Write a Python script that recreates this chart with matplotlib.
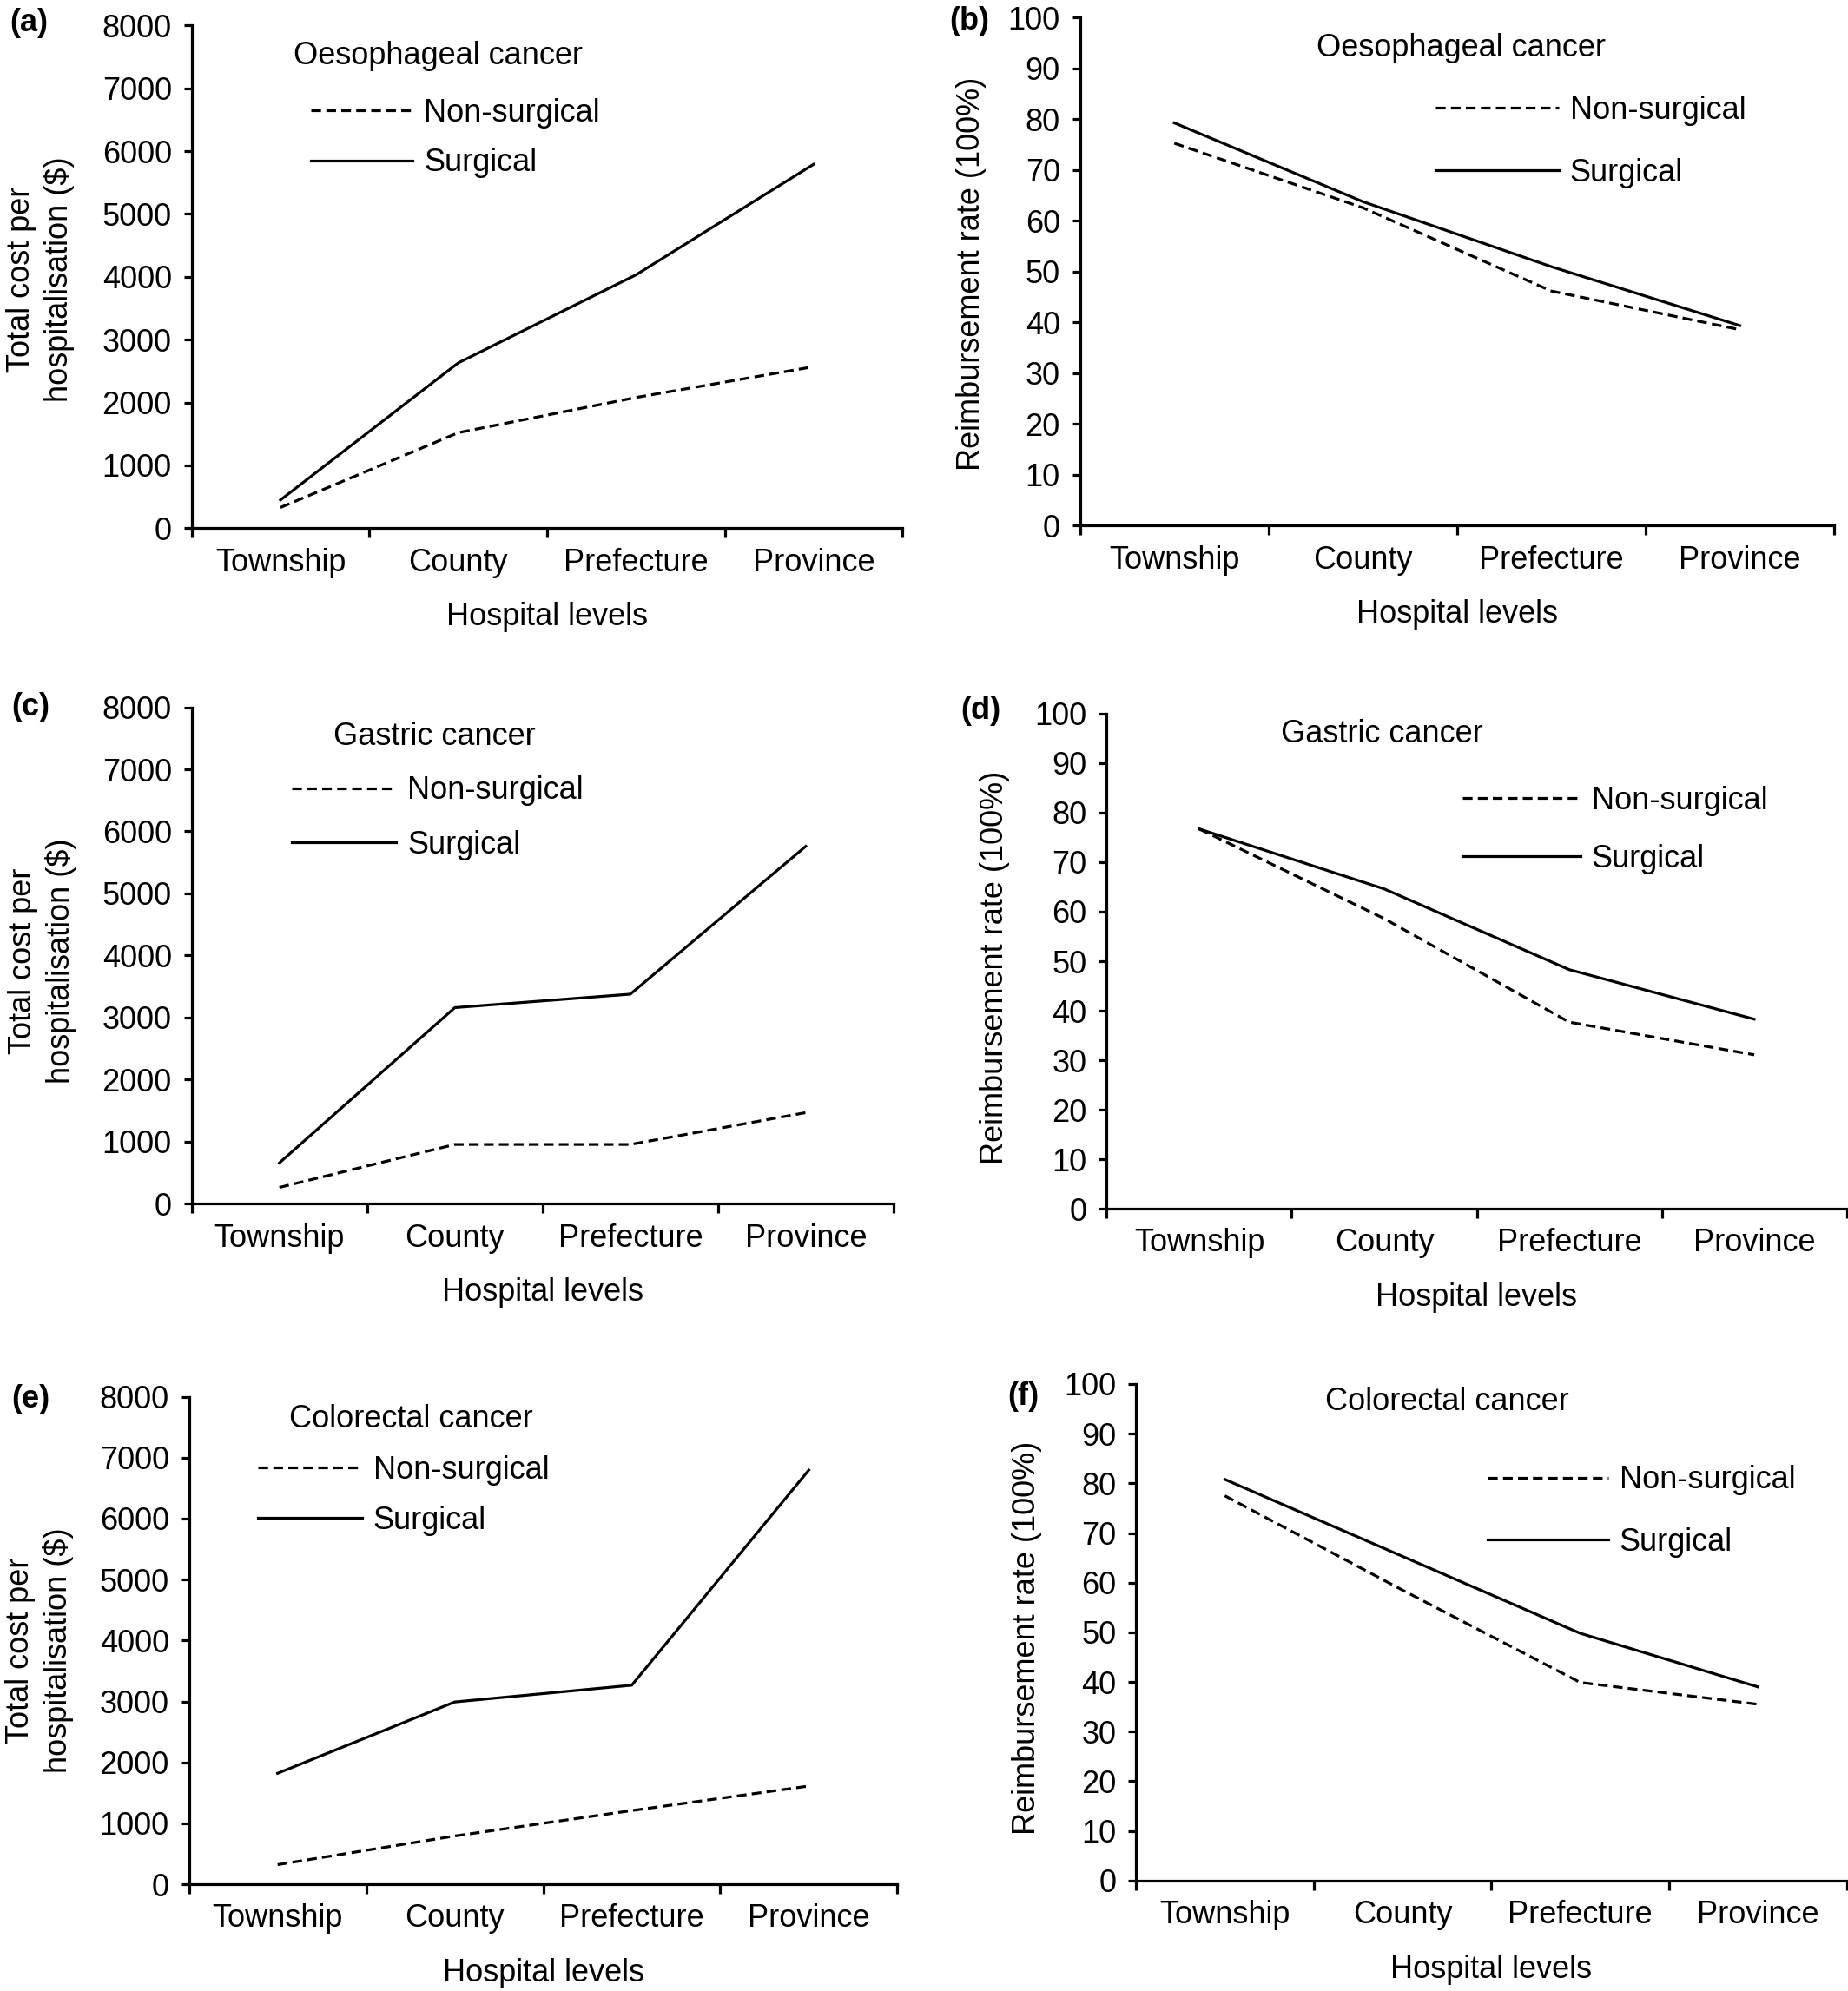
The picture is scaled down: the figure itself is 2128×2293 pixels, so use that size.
import matplotlib
matplotlib.use("Agg")
import matplotlib.pyplot as plt

plt.rcParams['font.family'] = ['Liberation Sans', 'DejaVu Sans']

# ---------------- data ----------------
categories = ['Township', 'County', 'Prefecture', 'Province']
series_labels = ['Non-surgical', 'Surgical']

oes_cost_nonsurg = [330, 1520, 2080, 2570]
oes_cost_surg = [450, 2630, 4030, 5790]
oes_reimb_nonsurg = [75.3, 62.6, 46.2, 38.6]
oes_reimb_surg = [79.3, 63.8, 51.0, 39.4]

gas_cost_nonsurg = [263, 955, 955, 1468]
gas_cost_surg = [658, 3160, 3377, 5760]
gas_reimb_nonsurg = [76.7, 58.6, 37.7, 31.1]
gas_reimb_surg = [76.7, 64.6, 48.3, 38.3]

col_cost_nonsurg = [323, 793, 1210, 1613]
col_cost_surg = [1822, 2992, 3267, 6797]
col_reimb_nonsurg = [77.5, 58.5, 39.9, 35.5]
col_reimb_surg = [80.8, 65.3, 49.8, 39.0]

cost_ticks = list(range(0, 8001, 1000))
reimb_ticks = list(range(0, 101, 10))

cost_ylabel = 'Total cost per\nhospitalisation ($)'
reimb_ylabel = 'Reimbursement rate (100%)'
xlabel = 'Hospital levels'

# ---------------- layout (reference px in a 1456x1568 frame) ----------------
W, H = 1456.0, 1568.0
FS = 26
EM = FS / 72 * 100 / (2128 / W)  # em size in frame px

panels = [
    dict(letter='(a)', title='Oesophageal cancer', non=oes_cost_nonsurg, surg=oes_cost_surg,
         ticks=cost_ticks, ylabel=cost_ylabel, box=(151, 711, 20, 416),
         let=(8, 18), yl=(32, 220), tt=(231, 44), lg=(245, 86, 39, 80)),
    dict(letter='(b)', title='Oesophageal cancer', non=oes_reimb_nonsurg, surg=oes_reimb_surg,
         ticks=reimb_ticks, ylabel=reimb_ylabel, box=(851, 1445, 14, 414),
         let=(748, 17), yl=(765, 216), tt=(1037, 38), lg=(1131, 84, 49, 97)),
    dict(letter='(c)', title='Gastric cancer', non=gas_cost_nonsurg, surg=gas_cost_surg,
         ticks=cost_ticks, ylabel=cost_ylabel, box=(151, 704, 557, 948),
         let=(9, 557), yl=(33, 757), tt=(263, 580), lg=(230, 620, 42, 82)),
    dict(letter='(d)', title='Gastric cancer', non=gas_reimb_nonsurg, surg=gas_reimb_surg,
         ticks=reimb_ticks, ylabel=reimb_ylabel, box=(872, 1455, 562, 952),
         let=(757, 560), yl=(784, 762), tt=(1009, 578), lg=(1152, 628, 45, 93)),
    dict(letter='(e)', title='Colorectal cancer', non=col_cost_nonsurg, surg=col_cost_surg,
         ticks=cost_ticks, ylabel=cost_ylabel, box=(149, 707, 1100, 1484),
         let=(9, 1102), yl=(31, 1300), tt=(228, 1118), lg=(203, 1155, 39, 82)),
    dict(letter='(f)', title='Colorectal cancer', non=col_reimb_nonsurg, surg=col_reimb_surg,
         ticks=reimb_ticks, ylabel=reimb_ylabel, box=(895, 1455, 1090, 1481),
         let=(794, 1100), yl=(809, 1290), tt=(1044, 1104), lg=(1172, 1163, 48, 95)),
]

fig = plt.figure(figsize=(21.28, 22.93), dpi=100, facecolor='white')

LW = 2.3
DASH = (3.5, 1.9)

for p in panels:
    l, r, t, b = p['box']
    ax = fig.add_axes([l / W, 1 - b / H, (r - l) / W, (b - t) / H])
    x = list(range(len(categories)))
    ax.plot(x, p['non'], color='black', lw=LW, linestyle=(0, DASH), label=series_labels[0])
    ax.plot(x, p['surg'], color='black', lw=LW, linestyle='-', label=series_labels[1])

    ax.set_xlim(-0.5, len(categories) - 0.5)
    ax.set_ylim(p['ticks'][0], p['ticks'][-1])
    ax.set_yticks(p['ticks'])
    ax.set_yticklabels([str(v) for v in p['ticks']], fontsize=FS)
    ax.set_xticks([i - 0.5 for i in range(len(categories) + 1)])
    ax.set_xticklabels([''] * (len(categories) + 1))
    ax.set_xticks(x, minor=True)
    ax.set_xticklabels(categories, minor=True, fontsize=FS)
    ax.tick_params(axis='x', which='major', direction='out', length=7.9, width=LW)
    ax.tick_params(axis='x', which='minor', length=0, pad=16)
    ax.tick_params(axis='y', which='major', direction='out', length=6.5, width=LW, pad=10)
    for s in ('top', 'right'):
        ax.spines[s].set_visible(False)
    for s in ('left', 'bottom'):
        ax.spines[s].set_linewidth(LW)
    ax.set_xlabel(xlabel, fontsize=FS, labelpad=20)

    # panel letter
    fig.text(p['let'][0] / W, 1 - p['let'][1] / H, p['letter'], fontsize=FS,
             fontweight='bold', ha='left', va='center')
    # y label
    fig.text(p['yl'][0] / W, 1 - p['yl'][1] / H, p['ylabel'], fontsize=FS, rotation=90,
             ha='center', va='center', multialignment='center', linespacing=1.3)
    # panel title
    ax.text((p['tt'][0] - l) / (r - l), (b - p['tt'][1]) / (b - t), p['title'],
            transform=ax.transAxes, fontsize=FS, ha='left', va='center')
    # legend
    hx, hy, pitch, hl = p['lg']
    rowh = 0.945 * EM
    top = hy - 0.367 * EM
    ax.legend(loc='upper left',
              bbox_to_anchor=((hx - l) / (r - l), (b - top) / (b - t)),
              frameon=False, fontsize=FS, borderpad=0, borderaxespad=0,
              handlelength=hl / EM, handletextpad=0.36,
              labelspacing=max(0.0, (pitch - rowh) / EM))

fig.savefig('out.png', dpi=100, facecolor='white')
